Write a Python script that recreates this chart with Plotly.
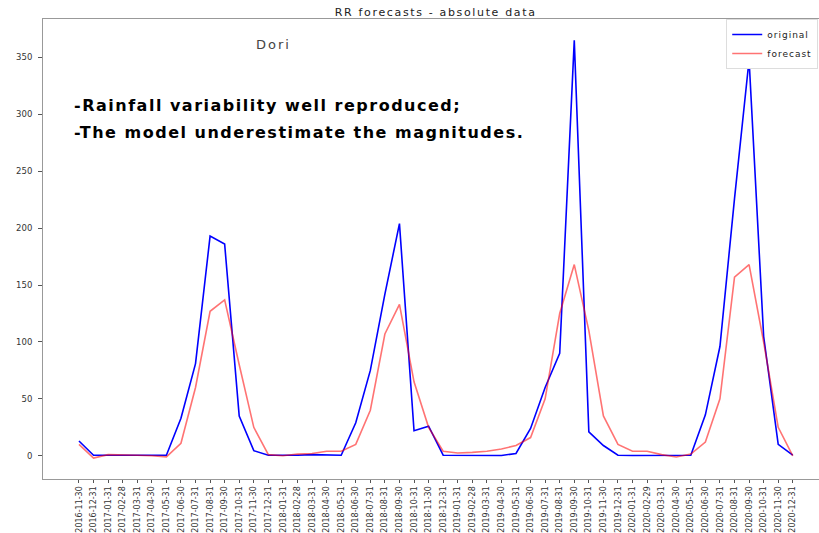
import plotly.graph_objects as go

dates = [
    "2016-11-30", "2016-12-31",
    "2017-01-31", "2017-02-28", "2017-03-31", "2017-04-30", "2017-05-31", "2017-06-30",
    "2017-07-31", "2017-08-31", "2017-09-30", "2017-10-31", "2017-11-30", "2017-12-31",
    "2018-01-31", "2018-02-28", "2018-03-31", "2018-04-30", "2018-05-31", "2018-06-30",
    "2018-07-31", "2018-08-31", "2018-09-30", "2018-10-31", "2018-11-30", "2018-12-31",
    "2019-01-31", "2019-02-28", "2019-03-31", "2019-04-30", "2019-05-31", "2019-06-30",
    "2019-07-31", "2019-08-31", "2019-09-30", "2019-10-31", "2019-11-30", "2019-12-31",
    "2020-01-31", "2020-02-29", "2020-03-31", "2020-04-30", "2020-05-31", "2020-06-30",
    "2020-07-31", "2020-08-31", "2020-09-30", "2020-10-31", "2020-11-30", "2020-12-31",
]

original = [
    13, 0.5,
    0.5, 0.5, 0.5, 0.3, 0.5, 33,
    81, 193, 186, 35, 4.5, 0.5,
    0.3, 0.5, 1, 0.5, 0.5, 29,
    75, 142, 204, 22, 26, 0.5,
    0.3, 0.3, 0.3, 0.3, 2, 24,
    60, 90, 365, 21, 9, 0.5,
    0.3, 0.3, 0.3, 0.3, 0.5, 36,
    96, 226, 348, 105, 10, 0.5,
]

forecast = [
    10, -2,
    1, 1, 0.5, 0, -1, 11,
    60, 127, 137, 80, 25, 1,
    0, 1.5, 2, 4, 4, 10,
    40, 107, 133, 65, 25, 4,
    2.5, 3, 4, 6, 9, 16,
    50, 125, 168, 110, 35, 10,
    4, 4, 1, -1, 1.5, 12,
    50, 157, 168, 100, 25, 0,
]

title_text = "RR forecasts - absolute data"
station = "Dori"
note1 = "-Rainfall variability well reproduced;"
note2 = "-The model underestimate the magnitudes."


def spaced(t, ls):
    return f'<span style="letter-spacing:{ls}px">{t}</span>'


idx = list(range(len(dates)))
fig = go.Figure()
fig.add_trace(go.Scatter(x=idx, y=original, mode="lines", name=spaced("original", 1),
                         line=dict(color="#0000ff", width=1.6)))
fig.add_trace(go.Scatter(x=idx, y=forecast, mode="lines", name=spaced("forecast", 1),
                         line=dict(color="rgba(255,0,0,0.55)", width=1.6)))

fig.update_layout(
    width=819, height=533,
    margin=dict(l=43, r=0, t=19, b=50),
    paper_bgcolor="white", plot_bgcolor="white",
    font=dict(family="DejaVu Sans", color="#333"),
    title=dict(text=spaced(title_text, 1.65), x=0.532, xanchor="center", y=0.978, yanchor="middle",
               font=dict(size=11, color="#222")),
    showlegend=True,
    legend=dict(x=0.999, y=1.0, xanchor="right", yanchor="top", bgcolor="white",
                bordercolor="#ddd", borderwidth=1, font=dict(size=9, color="#222"),
                tracegroupgap=0, itemwidth=30),
    xaxis=dict(
        range=[-2.47, 50.8], tickmode="array", tickvals=idx, ticktext=dates,
        tickangle=-90, tickfont=dict(size=8, color="#333"), ticks="outside", ticklen=3,
        tickcolor="#555", showline=True, linecolor="#999", linewidth=1, mirror=True,
        showgrid=False, zeroline=False,
    ),
    yaxis=dict(
        range=[-20.4, 383.8], tickvals=[0, 50, 100, 150, 200, 250, 300, 350],
        tickfont=dict(size=8.5, color="#333"), ticks="outside", ticklen=4, tickcolor="#555",
        ticklabelstandoff=4,
        showline=True, linecolor="#999", linewidth=1, showgrid=False, zeroline=False,
    ),
    annotations=[
        dict(x=13.35, y=361, xref="x", yref="y", text=spaced(station, 2), showarrow=False,
             font=dict(size=13, color="#444"), xanchor="center", yanchor="middle"),
        dict(x=-0.5, y=307.5, xref="x", yref="y", text="<b>" + spaced(note1, 1.5) + "</b>",
             showarrow=False, font=dict(size=16, color="black"), xanchor="left", yanchor="middle"),
        dict(x=-0.5, y=284.5, xref="x", yref="y", text="<b>" + spaced(note2, 1.5) + "</b>",
             showarrow=False, font=dict(size=16, color="black"), xanchor="left", yanchor="middle"),
    ],
)

fig.write_html("out.html")
